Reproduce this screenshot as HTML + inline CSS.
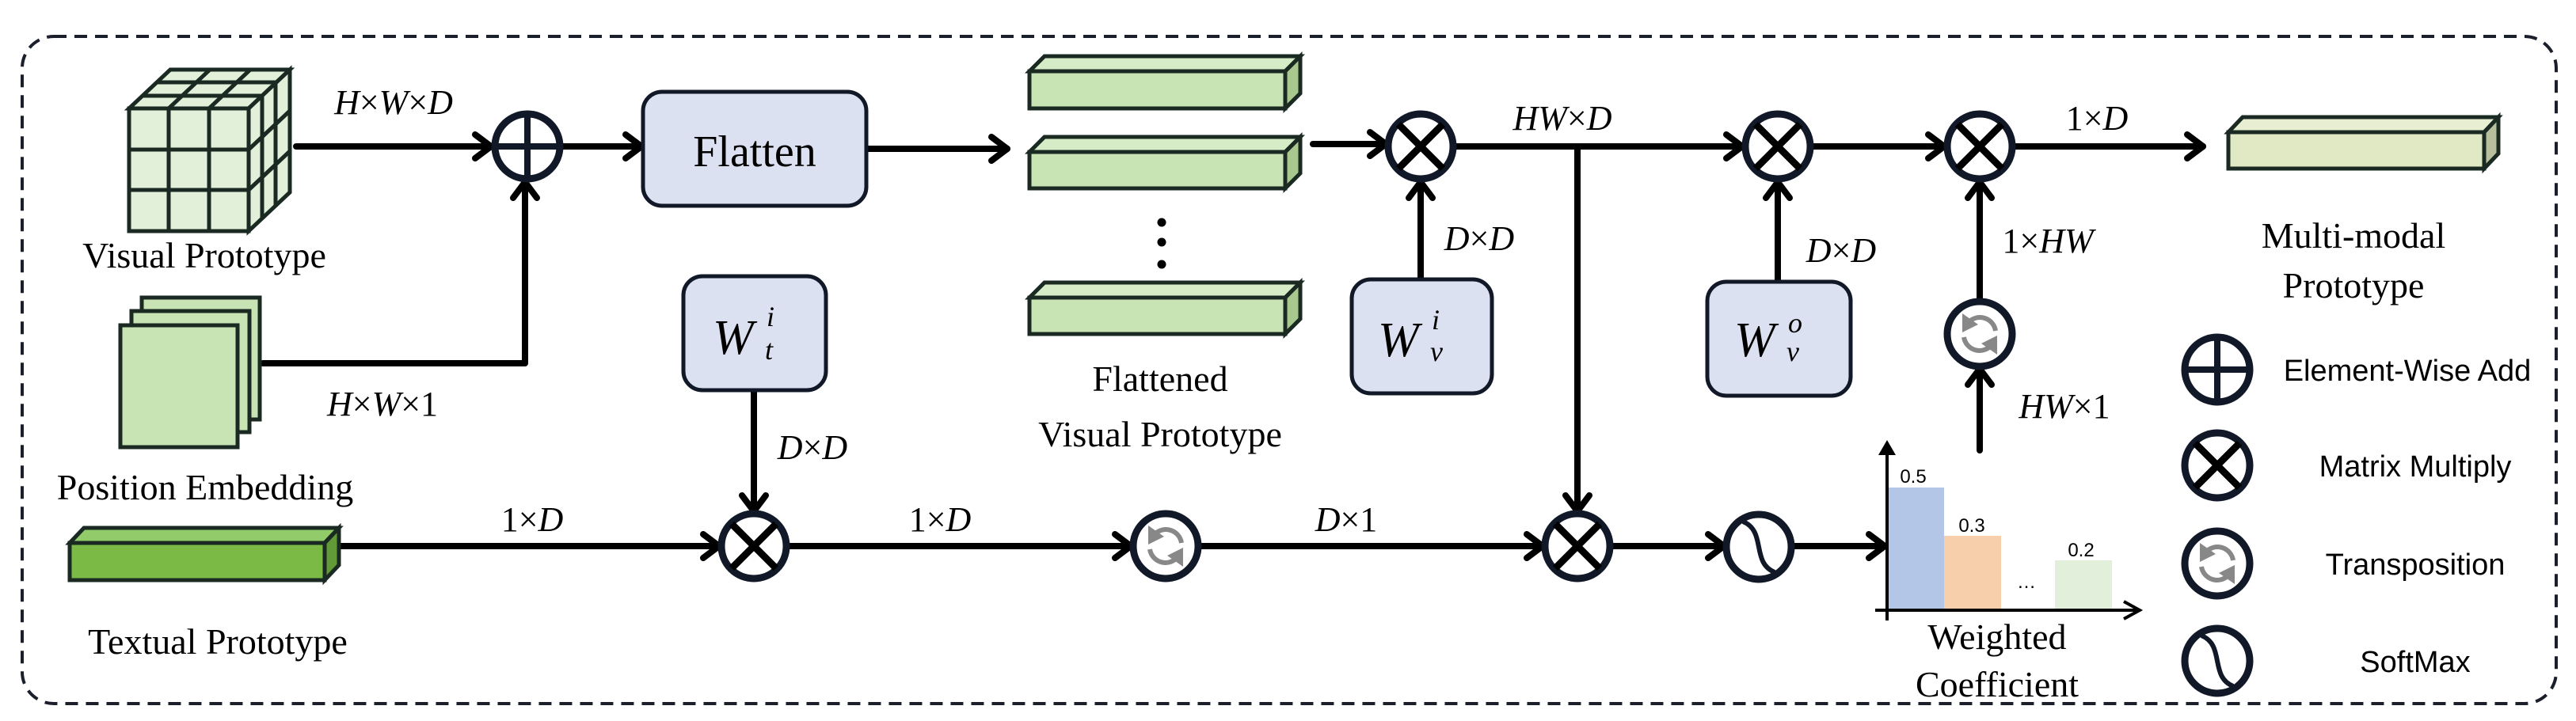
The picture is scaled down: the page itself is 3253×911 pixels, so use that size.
<!DOCTYPE html>
<html><head><meta charset="utf-8">
<style>
html,body{margin:0;padding:0;background:#fff;}
svg{display:block;}
.ser{font-family:"Liberation Serif",serif;fill:#000;}
.m{font-family:"Liberation Serif",serif;font-style:italic;fill:#000;}
.sn{font-family:"Liberation Sans",sans-serif;fill:#000;}
</style></head><body>
<svg width="3253" height="911" viewBox="0 0 3253 911" xmlns="http://www.w3.org/2000/svg">
<defs>
  <g id="mul"><circle r="41" fill="#fff" stroke="#111827" stroke-width="9"/><path d="M-28,-28L28,28M28,-28L-28,28" stroke="#000" stroke-width="9"/></g>
  <g id="add"><circle r="41" fill="#fff" stroke="#111827" stroke-width="9"/><path d="M-41,0H41M0,-41V41" stroke="#111827" stroke-width="8"/></g>
  <g id="tr"><circle r="41" fill="#fff" stroke="#111827" stroke-width="9"/>
    <path d="M-14,-15A20,20 0 0 1 20,-4" fill="none" stroke="#888" stroke-width="6"/>
    <path d="M14,15A20,20 0 0 1 -20,4" fill="none" stroke="#888" stroke-width="6"/>
    <path d="M-22,-26L-2,-12L-22,-2Z" fill="#888"/><path d="M22,26L2,12L22,2Z" fill="#888"/></g>
  <g id="sm"><circle r="41" fill="#fff" stroke="#111827" stroke-width="9"/>
    <path d="M-20,-32C10,-20 -10,20 20,32" fill="none" stroke="#111827" stroke-width="6"/></g>
</defs>

<rect x="28" y="46" width="3200" height="843" rx="40" fill="none" stroke="#1a1f2b" stroke-width="4" stroke-dasharray="16,10"/>

<g stroke="#000" stroke-width="8" fill="none" stroke-linecap="round" stroke-linejoin="round">
  <path d="M374,185H620"/><path d="M600,170L620,185L600,200"/>
  <path d="M708,185H810"/><path d="M790,170L810,185L790,200"/>
  <path d="M1094,188H1272"/><path d="M1252,173L1272,188L1252,203"/>
  <path d="M1658,182H1750"/><path d="M1730,167L1750,182L1730,197"/>
  <path d="M1836,185H2200"/><path d="M2180,170L2200,185L2180,200"/>
  <path d="M2287,185H2455"/><path d="M2435,170L2455,185L2435,200"/>
  <path d="M2542,185H2782"/><path d="M2762,170L2782,185L2762,200"/>
  <path d="M332,459H663V230"/><path d="M648,250L663,230L678,250"/>
  <path d="M1794,353V230"/><path d="M1779,250L1794,230L1809,250"/>
  <path d="M2245,356V230"/><path d="M2230,250L2245,230L2260,250"/>
  <path d="M1992,185V646"/><path d="M1977,626L1992,646L2007,626"/>
  <path d="M2500,380V230"/><path d="M2485,250L2500,230L2515,250"/>
  <path d="M2500,569V466"/><path d="M2485,486L2500,466L2515,486"/>
  <path d="M952,493V646"/><path d="M937,626L952,646L967,626"/>
  <path d="M428,690H908"/><path d="M888,675L908,690L888,705"/>
  <path d="M994,690H1428"/><path d="M1408,675L1428,690L1408,705"/>
  <path d="M1514,690H1948"/><path d="M1928,675L1948,690L1928,705"/>
  <path d="M2036,690H2177"/><path d="M2157,675L2177,690L2157,705"/>
  <path d="M2264,690H2380"/><path d="M2360,675L2380,690L2360,705"/>
</g>

<g stroke="#1a2a22" stroke-width="5" fill="#e2f0da">
  <polygon points="163,137 215,88 366,88 314,137"/>
  <polygon points="314,137 366,88 366,243 314,292"/>
  <rect x="163" y="137" width="151" height="155"/>
  <path d="M213,137V292M264,137V292M163,189H314M163,240H314" fill="none"/>
  <path d="M180,121H331M197,104H348M213,137L265,88M264,137L316,88" fill="none"/>
  <path d="M331,121V276M348,104V259M314,189L366,140M314,240L366,191" fill="none"/>
</g>
<text class="ser" x="258" y="338" style="font-size:46px" text-anchor="middle">Visual Prototype</text>
<text class="m" x="497" y="144" style="font-size:44px" text-anchor="middle">H<tspan font-style="normal">×</tspan>W<tspan font-style="normal">×</tspan>D</text>

<g stroke="#1a2a22" stroke-width="5" fill="#c9e4b4">
  <rect x="179" y="376" width="149" height="154"/>
  <rect x="166" y="393" width="149" height="153"/>
  <rect x="152" y="411" width="148" height="154"/>
</g>
<text class="m" x="483" y="525" style="font-size:44px" text-anchor="middle">H<tspan font-style="normal">×</tspan>W<tspan font-style="normal">×1</tspan></text>
<text class="ser" x="259" y="631" style="font-size:46px" text-anchor="middle">Position Embedding</text>

<g stroke="#1a2a22" stroke-width="5">
  <polygon points="88,686 106,667 428,667 410,686" fill="#92cc6a"/>
  <polygon points="410,686 428,667 428,714 410,733" fill="#629a38"/>
  <rect x="88" y="686" width="322" height="47" fill="#7aba45"/>
</g>
<text class="ser" x="275" y="826" style="font-size:46px" text-anchor="middle">Textual Prototype</text>
<text class="m" x="672" y="671" style="font-size:44px" text-anchor="middle"><tspan font-style="normal">1×</tspan>D</text>

<use href="#add" x="666" y="185"/>
<rect x="812" y="116" width="282" height="144" rx="24" fill="#dce1f1" stroke="#111827" stroke-width="5"/>
<text class="ser" x="953" y="210" style="font-size:56px" text-anchor="middle">Flatten</text>

<rect x="863" y="349" width="180" height="144" rx="24" fill="#dce1f1" stroke="#111827" stroke-width="5"/>
<text class="m" x="900" y="447" style="font-size:62px">W</text>
<text class="m" x="968" y="412" style="font-size:36px">i</text>
<text class="m" x="966" y="454" style="font-size:36px">t</text>
<text class="m" x="1026" y="580" style="font-size:44px" text-anchor="middle">D<tspan font-style="normal">×</tspan>D</text>
<use href="#mul" x="952" y="690"/>

<g stroke="#1a2a22" stroke-width="5">
  <polygon points="1300,90 1319,71 1642,71 1623,90" fill="#d6ecc6"/>
  <polygon points="1623,90 1642,71 1642,118 1623,137" fill="#a8c890"/>
  <rect x="1300" y="90" width="323" height="47" fill="#c9e4b4"/>
  <polygon points="1300,192 1319,173 1642,173 1623,192" fill="#d6ecc6"/>
  <polygon points="1623,192 1642,173 1642,219 1623,238" fill="#a8c890"/>
  <rect x="1300" y="192" width="323" height="46" fill="#c9e4b4"/>
  <polygon points="1300,376 1319,357 1642,357 1623,376" fill="#d6ecc6"/>
  <polygon points="1623,376 1642,357 1642,403 1623,422" fill="#a8c890"/>
  <rect x="1300" y="376" width="323" height="46" fill="#c9e4b4"/>
</g>
<circle cx="1467" cy="281" r="5.5" fill="#000"/><circle cx="1467" cy="306" r="5.5" fill="#000"/><circle cx="1467" cy="334" r="5.5" fill="#000"/>
<text class="ser" x="1465" y="494" style="font-size:46px" text-anchor="middle">Flattened</text>
<text class="ser" x="1465" y="564" style="font-size:46px" text-anchor="middle">Visual Prototype</text>
<text class="m" x="1187" y="671" style="font-size:44px" text-anchor="middle"><tspan font-style="normal">1×</tspan>D</text>
<use href="#tr" x="1472" y="690"/>
<text class="m" x="1700" y="671" style="font-size:44px" text-anchor="middle">D<tspan font-style="normal">×1</tspan></text>

<use href="#mul" x="1794" y="185"/>
<rect x="1707" y="353" width="177" height="144" rx="24" fill="#dce1f1" stroke="#111827" stroke-width="5"/>
<text class="m" x="1740" y="450" style="font-size:62px">W</text>
<text class="m" x="1808" y="416" style="font-size:36px">i</text>
<text class="m" x="1806" y="456" style="font-size:36px">v</text>
<text class="m" x="1868" y="316" style="font-size:44px" text-anchor="middle">D<tspan font-style="normal">×</tspan>D</text>
<text class="m" x="1973" y="164" style="font-size:44px" text-anchor="middle">HW<tspan font-style="normal">×</tspan>D</text>
<use href="#mul" x="1992" y="690"/>

<use href="#mul" x="2245" y="185"/>
<rect x="2156" y="356" width="181" height="144" rx="24" fill="#dce1f1" stroke="#111827" stroke-width="5"/>
<text class="m" x="2190" y="450" style="font-size:62px">W</text>
<text class="m" x="2258" y="420" style="font-size:36px">o</text>
<text class="m" x="2256" y="456" style="font-size:36px">v</text>
<text class="m" x="2325" y="331" style="font-size:44px" text-anchor="middle">D<tspan font-style="normal">×</tspan>D</text>
<use href="#sm" x="2221" y="691"/>

<use href="#mul" x="2500" y="185"/>
<use href="#tr" x="2500" y="422"/>
<text class="m" x="2586" y="319" style="font-size:44px" text-anchor="middle"><tspan font-style="normal">1×</tspan>HW</text>
<text class="m" x="2607" y="528" style="font-size:44px" text-anchor="middle">HW<tspan font-style="normal">×1</tspan></text>
<text class="m" x="2648" y="164" style="font-size:44px" text-anchor="middle"><tspan font-style="normal">1×</tspan>D</text>

<g stroke="#1a2a22" stroke-width="5">
  <polygon points="2814,167 2832,148 3155,148 3137,167" fill="#e8eed2"/>
  <polygon points="3137,167 3155,148 3155,194 3137,213" fill="#b8bf9c"/>
  <rect x="2814" y="167" width="323" height="46" fill="#e0e8c4"/>
</g>
<text class="ser" x="2972" y="313" style="font-size:46px" text-anchor="middle">Multi-modal</text>
<text class="ser" x="2972" y="376" style="font-size:46px" text-anchor="middle">Prototype</text>

<rect x="2385" y="616" width="70" height="155" fill="#b4c6e7"/>
<rect x="2455" y="677" width="72" height="94" fill="#f7cfaa"/>
<rect x="2595" y="708" width="72" height="63" fill="#e2efda"/>
<g stroke="#000" stroke-width="4" fill="none">
  <path d="M2383,784V568"/><path d="M2368,771H2700"/><path d="M2682,760L2702,771L2682,782"/>
</g>
<path d="M2372,575L2383,556L2394,575Z" fill="#000"/>
<text class="sn" x="2416" y="610" style="font-size:24px" text-anchor="middle">0.5</text>
<text class="sn" x="2490" y="672" style="font-size:24px" text-anchor="middle">0.3</text>
<text class="sn" x="2628" y="703" style="font-size:24px" text-anchor="middle">0.2</text>
<text class="sn" x="2559" y="743" style="font-size:24px" text-anchor="middle">…</text>
<text class="ser" x="2522" y="820" style="font-size:46px" text-anchor="middle">Weighted</text>
<text class="ser" x="2522" y="880" style="font-size:46px" text-anchor="middle">Coefficient</text>

<use href="#add" x="2800" y="467"/>
<use href="#mul" x="2800" y="588"/>
<use href="#tr" x="2800" y="712"/>
<use href="#sm" x="2800" y="835"/>
<text class="sn" x="3040" y="481" style="font-size:38px" text-anchor="middle">Element-Wise Add</text>
<text class="sn" x="3050" y="602" style="font-size:38px" text-anchor="middle">Matrix Multiply</text>
<text class="sn" x="3050" y="726" style="font-size:38px" text-anchor="middle">Transposition</text>
<text class="sn" x="3050" y="849" style="font-size:38px" text-anchor="middle">SoftMax</text>
</svg>
</body></html>
